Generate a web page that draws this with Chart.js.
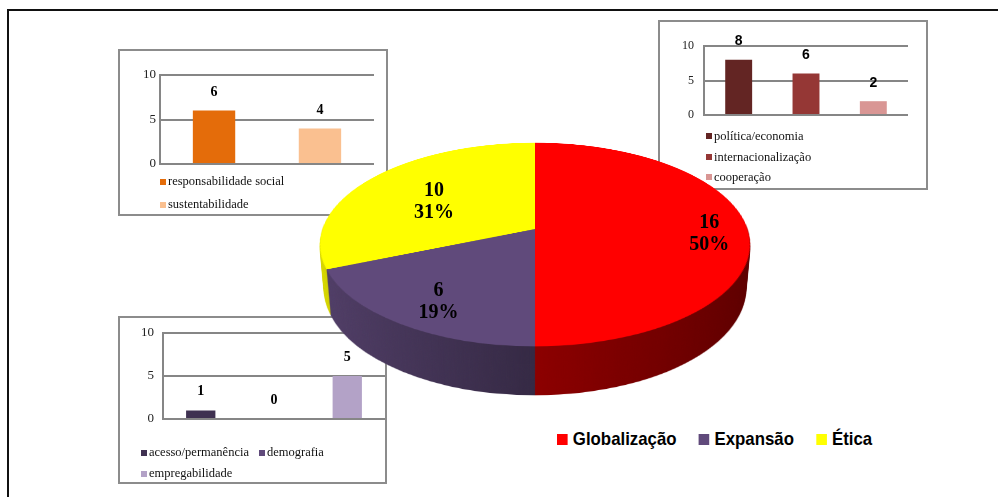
<!DOCTYPE html>
<html>
<head>
<meta charset="utf-8">
<script src="https://cdn.jsdelivr.net/npm/chart.js@4.4.0/dist/chart.umd.min.js"></script>
<style>
  body { margin: 0; width: 998px; height: 497px; overflow: hidden; background: #fff; position: relative; font-family: 'Liberation Serif', 'Times New Roman', serif; }
  .frameTop { position: absolute; left: 7px; top: 9px; width: 991px; height: 2px; background: #111; }
  .frameLeft { position: absolute; left: 7px; top: 9px; width: 2px; height: 488px; background: #111; }
  .inset { position: absolute; }
  .inset .border { position: absolute; left: 0; top: 0; right: 0; bottom: 0; border: 2px solid #8c8c8c; background: #fff; }
  .inset canvas { position: absolute; left: 0; top: 0; }
  .ilegend { position: absolute; display: flex; flex-wrap: wrap; column-gap: 10px; font-size: 12.5px; color: #111; white-space: nowrap; }
  .ilegend .item { display: flex; align-items: center; }
  .ilegend .sw { width: 6px; height: 6px; margin-right: 2px; }
  #pie canvas { position: absolute; }
  .plabel { position: absolute; transform: translate(-50%, -50%); font: bold 20px 'Liberation Serif', serif; line-height: 22px; text-align: center; color: #000; }
  /* narrow bold look: Liberation Sans Bold squeezed horizontally */
  #pieLegend { position: absolute; left: 557px; top: 428px; display: flex; align-items: center; white-space: nowrap;
               font: bold 19px 'Liberation Sans', Arial, sans-serif; color: #000;
               transform: scaleX(0.885); transform-origin: 0 50%; }
  #pieLegend .item { display: flex; align-items: center; margin-right: 25px; }
  #pieLegend .sw { width: 12.4px; height: 11px; margin-right: 5.5px; }
</style>
</head>
<body>
<div class="frameTop"></div>
<div class="frameLeft"></div>

<div class="inset" id="insetEtica"><div class="border"></div><canvas></canvas><div class="ilegend"></div></div>
<div class="inset" id="insetGlob"><div class="border"></div><canvas></canvas><div class="ilegend"></div></div>
<div class="inset" id="insetExp"><div class="border"></div><canvas></canvas><div class="ilegend"></div></div>

<div id="pie"></div>
<div id="pieLabels"></div>
<div id="pieLegend"></div>

<script>
// main pie
const pieLabels = ['Globalização', 'Expansão', 'Ética'];
const pieValues = [16, 6, 10];
const pieColors = ['#FF0000', '#604A7B', '#FFFF00'];

// small bar charts
const eticaLabels = ['responsabilidade social', 'sustentabilidade'];
const eticaValues = [6, 4];
const eticaColors = ['#E46C0A', '#FAC090'];

const globLabels = ['política/economia', 'internacionalização', 'cooperação'];
const globValues = [8, 6, 2];
const globColors = ['#632523', '#953735', '#D99694'];

const expLabels = ['acesso/permanência', 'demografia', 'empregabilidade'];
const expValues = [1, 0, 5];
const expColors = ['#3F3151', '#604A7B', '#B3A2C7'];

const yTicks = [0, 5, 10];

// label placement along the radius, per slice
const pieLabelRadius = [0.82, 0.74, 0.6];

// value above each bar
function valueLabels(font) {
  return {
    id: 'valueLabels',
    afterDatasetsDraw(chart) {
      const ctx = chart.ctx;
      ctx.save();
      ctx.font = font;
      ctx.fillStyle = '#000';
      ctx.textAlign = 'center';
      ctx.textBaseline = 'middle';
      chart.data.datasets.forEach((ds, i) => {
        const bar = chart.getDatasetMeta(i).data[0];
        ctx.fillText(ds.data[0], bar.x, bar.y - 18.5);
      });
      ctx.restore();
    }
  };
}

function insetChart(id, labels, values, colors, cfg) {
  const wrap = document.getElementById(id);
  wrap.style.left = cfg.x + 'px';
  wrap.style.top = cfg.y + 'px';
  wrap.style.width = cfg.w + 'px';
  wrap.style.height = cfg.h + 'px';
  const canvas = wrap.querySelector('canvas');
  canvas.width = cfg.w;
  canvas.height = cfg.h;
  const [pl, pt, pr, pb] = cfg.plot;

  new Chart(canvas, {
    type: 'bar',
    data: {
      labels: [''],
      datasets: labels.map((l, i) => ({
        label: l,
        data: [values[i]],
        backgroundColor: colors[i],
        categoryPercentage: 0.99,
        barPercentage: 0.4
      }))
    },
    options: {
      responsive: false,
      animation: false,
      events: [],
      layout: { padding: { left: 0, top: pt, right: cfg.w - pr, bottom: cfg.h - pb } },
      plugins: { legend: { display: false }, tooltip: { enabled: false } },
      scales: {
        x: { display: false },
        y: {
          min: yTicks[0],
          max: yTicks[yTicks.length - 1],
          ticks: { stepSize: yTicks[1] - yTicks[0], padding: cfg.tickPad, color: '#222',
                   font: { family: 'Liberation Serif', size: cfg.tickSize } },
          grid: { color: '#868686', lineWidth: 2, drawTicks: false },
          border: { color: '#868686', width: 2 },
          afterFit: s => { s.width = pl; }
        }
      }
    },
    plugins: [valueLabels(cfg.labelFont)]
  });

  // legend
  const lg = wrap.querySelector('.ilegend');
  lg.style.left = cfg.legend.x + 'px';
  lg.style.top = cfg.legend.y + 'px';
  lg.style.width = cfg.legend.w + 'px';
  lg.style.lineHeight = cfg.legend.lh + 'px';
  labels.forEach((l, i) => {
    const it = document.createElement('div');
    it.className = 'item';
    it.innerHTML = '<span class="sw" style="background:' + colors[i] + '"></span>' + l;
    lg.appendChild(it);
  });
}

insetChart('insetEtica', eticaLabels, eticaValues, eticaColors, {
  x: 118, y: 49, w: 270, h: 167, plot: [42, 26, 256, 115], tickPad: 4, tickSize: 13,
  labelFont: 'bold 14px "Liberation Serif"',
  legend: { x: 42, y: 121, w: 150, lh: 23 }
});
insetChart('insetGlob', globLabels, globValues, globColors, {
  x: 658, y: 20, w: 270, h: 170, plot: [46, 26, 250, 95], tickPad: 10, tickSize: 12,
  labelFont: 'bold 14px "Liberation Sans"',
  legend: { x: 48, y: 106, w: 150, lh: 20.5 }
});
insetChart('insetExp', expLabels, expValues, expColors, {
  x: 118, y: 316, w: 269, h: 168, plot: [45, 14, 267, 103], tickPad: 9, tickSize: 13,
  labelFont: 'bold 14px "Liberation Serif"',
  legend: { x: 23, y: 126, w: 200, lh: 21 }
});

// 3D pie: flat Chart.js pie tilted with CSS perspective, side built from stacked layers
const PIE = { cx: 535, cy: 229, r: 212.5, tilt: 62.1, persp: 1232, depth: 50.5, layers: 50, size: 460 };
const pieBox = document.getElementById('pie');

function shade(hex, f) {
  const n = parseInt(hex.slice(1), 16);
  return 'rgb(' + Math.round((n >> 16 & 255) * f) + ',' + Math.round((n >> 8 & 255) * f) + ',' + Math.round((n & 255) * f) + ')';
}

function pieCanvas(dz) {
  const c = document.createElement('canvas');
  c.width = PIE.size;
  c.height = PIE.size;
  c.style.left = (PIE.cx - PIE.size / 2) + 'px';
  c.style.top = (PIE.cy - PIE.size / 2) + 'px';
  c.style.transform = 'perspective(' + PIE.persp + 'px) rotateX(' + PIE.tilt + 'deg) translateZ(' + (-dz) + 'px)';
  pieBox.appendChild(c);
  return c;
}

function pieConfig(colors) {
  const pad = (PIE.size - 2 * PIE.r) / 2;
  return {
    type: 'pie',
    data: { labels: pieLabels, datasets: [{ data: pieValues, backgroundColor: colors, borderWidth: 0 }] },
    options: {
      responsive: false,
      animation: false,
      events: [],
      layout: { padding: pad },
      plugins: { legend: { display: false }, tooltip: { enabled: false } }
    }
  };
}

// side: deepest layer drawn by Chart.js, copied upwards
const sideColors = c => {
  const a = c.chart.chartArea;
  const col = pieColors[c.dataIndex];
  if (!a) return col;
  const g = c.chart.ctx.createLinearGradient(a.left, 0, a.right, 0);
  g.addColorStop(0, shade(col, 0.85));
  g.addColorStop(0.5, shade(col, 0.55));
  g.addColorStop(1, shade(col, 0.36));
  return g;
};
const sideBase = pieCanvas(PIE.depth);
new Chart(sideBase, pieConfig(sideColors));
for (let i = PIE.layers - 1; i >= 1; i--) {
  const c = pieCanvas(PIE.depth * i / PIE.layers);
  c.getContext('2d').drawImage(sideBase, 0, 0);
}

// top face
const topChart = new Chart(pieCanvas(0), pieConfig(pieColors));

// data labels projected with the same perspective
const total = pieValues.reduce((a, b) => a + b, 0);
const th = PIE.tilt * Math.PI / 180;
const lblBox = document.getElementById('pieLabels');
topChart.getDatasetMeta(0).data.forEach((arc, i) => {
  const m = (arc.startAngle + arc.endAngle) / 2;
  const fx = Math.cos(m) * arc.outerRadius * pieLabelRadius[i];
  const fy = Math.sin(m) * arc.outerRadius * pieLabelRadius[i];
  const k = PIE.persp / (PIE.persp - fy * Math.sin(th));
  const d = document.createElement('div');
  d.className = 'plabel';
  d.style.left = (PIE.cx + fx * k) + 'px';
  d.style.top = (PIE.cy + 3 + fy * Math.cos(th) * k) + 'px';
  d.innerHTML = pieValues[i] + '<br>' + Math.round(pieValues[i] / total * 100) + '%';
  lblBox.appendChild(d);
});

// legend
const pieLeg = document.getElementById('pieLegend');
pieLabels.forEach((l, i) => {
  const it = document.createElement('div');
  it.className = 'item';
  it.innerHTML = '<span class="sw" style="background:' + pieColors[i] + '"></span>' + l;
  pieLeg.appendChild(it);
});
</script>
</body>
</html>
